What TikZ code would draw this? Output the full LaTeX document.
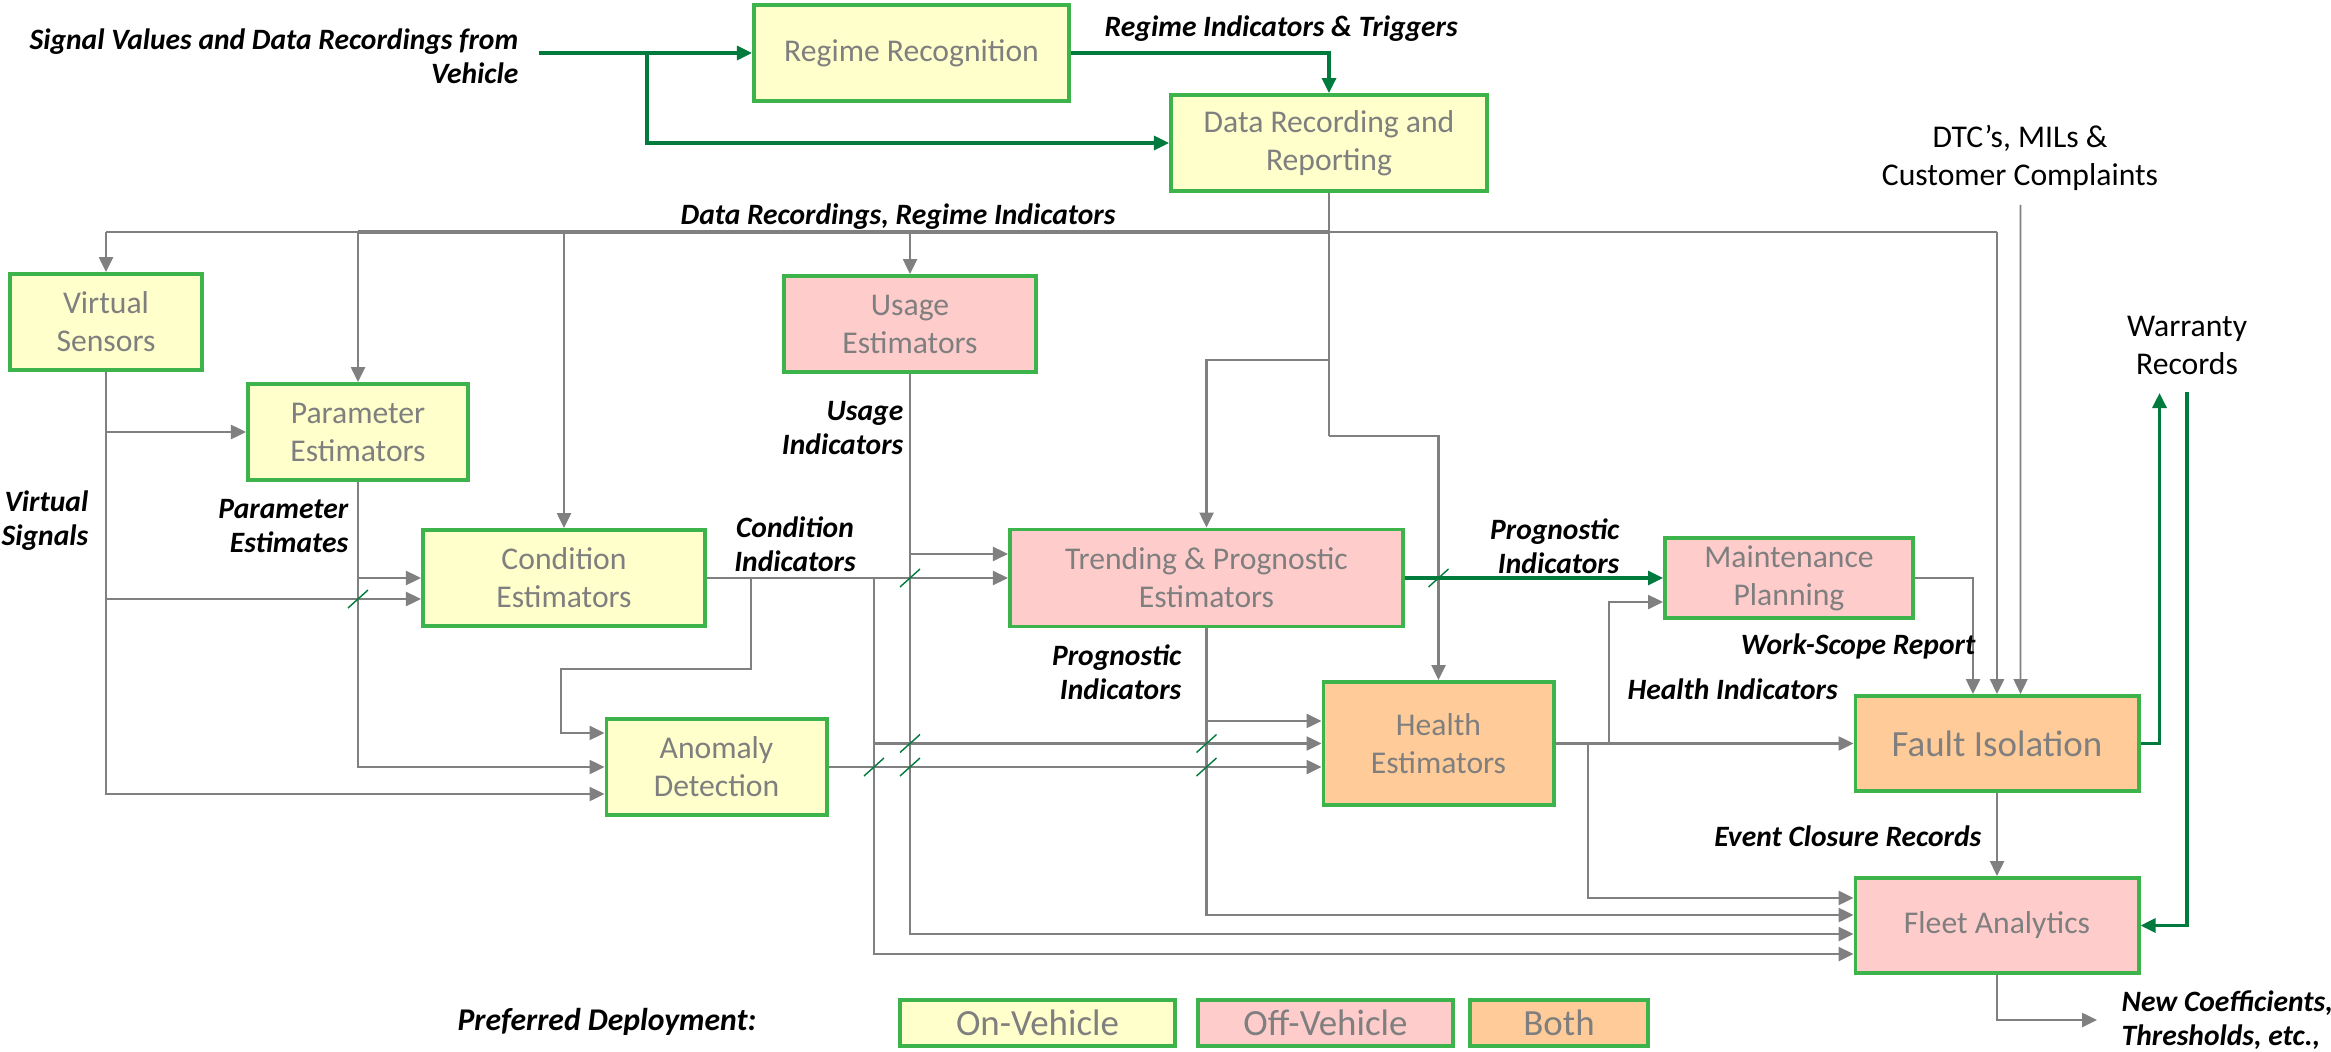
\documentclass[tikz,border=0pt]{standalone}
\usepackage{fontspec}
\setmainfont{Carlito}
\usetikzlibrary{arrows.meta}
\definecolor{FDGreen}{HTML}{3CB44B}
\definecolor{FDDark}{HTML}{007A3D}
\definecolor{FDGray}{HTML}{808080}
\definecolor{FDText}{HTML}{7F7F7F}
\definecolor{FDYellow}{HTML}{FFFFCC}
\definecolor{FDPink}{HTML}{FFCCCC}
\definecolor{FDPeach}{HTML}{FFCC99}
\tikzset{
  unit/.style={draw=FDGreen,line width=1.1pt,text=FDText,align=center,inner sep=0pt,
               font=\fontsize{9}{10.8}\selectfont},
  onveh/.style={unit,fill=FDYellow},
  offveh/.style={unit,fill=FDPink},
  bothveh/.style={unit,fill=FDPeach},
  flow/.style={-{Triangle[length=1.5mm,width=1.4mm]},FDGray,line width=0.7pt},
  flowgreen/.style={flow,FDDark,line width=0.9pt},
  wire/.style={FDGray,line width=0.7pt},
  slash/.style={FDDark,line width=0.4pt},
  lab/.style={font=\fontsize{8.4}{9.7}\selectfont\bfseries\itshape,text=black,inner sep=0pt},
  plainlab/.style={font=\fontsize{9}{10.8}\selectfont,text=black,align=center,inner sep=0pt},
}

\begin{document}
\begin{tikzpicture}[x=0.01cm,y=-0.01cm]
  \path[use as bounding box,fill=white] (0,0) rectangle (2331,1052);

  % on-vehicle blocks
  \node[onveh,minimum width=3.15cm,minimum height=0.96cm] (rr) at (911.5,53) {Regime Recognition};
  \node[onveh,minimum width=3.16cm,minimum height=0.96cm] (dr) at (1329,143) {Data Recording and\\Reporting};
  \node[onveh,minimum width=1.92cm,minimum height=0.96cm] (vs) at (106,322) {Virtual\\Sensors};
  \node[onveh,minimum width=2.20cm,minimum height=0.96cm] (pe) at (358,432) {Parameter\\Estimators};
  \node[onveh,minimum width=2.82cm,minimum height=0.96cm] (ce) at (564,578) {Condition\\Estimators};
  \node[onveh,minimum width=2.20cm,minimum height=0.96cm] (ad) at (716.5,767) {Anomaly\\Detection};
  % off-vehicle and both
  \node[offveh,minimum width=2.52cm,minimum height=0.96cm] (ue) at (910,324) {Usage\\Estimators};
  \node[offveh,minimum width=3.93cm,minimum height=0.97cm] (tp) at (1206.5,578) {Trending \& Prognostic\\Estimators};
  \node[offveh,minimum width=2.48cm,minimum height=0.80cm] (mp) at (1789,578) {Maintenance\\Planning};
  \node[bothveh,minimum width=2.30cm,minimum height=1.23cm] (he) at (1438.5,743.5) {Health\\Estimators};
  \node[bothveh,minimum width=2.83cm,minimum height=0.95cm,font=\fontsize{10.5}{12.6}\selectfont] (fi) at (1997,743.5) {Fault Isolation};
  \node[offveh,minimum width=2.83cm,minimum height=0.95cm] (fa) at (1997,925.5) {Fleet Analytics};

  % junctions
  \coordinate (sigin) at (539,53);
  \coordinate (sigj) at (647,53);
  \coordinate (busL) at (106,232);
  \coordinate (busDR) at (1329,232);
  \coordinate (busR) at (1997,232);
  \coordinate (drup) at (1329,360);
  \coordinate (drdn) at (1329,436);
  \coordinate (dtcin) at (2020.5,205);
  \coordinate (fiinL) at ([xshift=-0.24cm]fi.north);
  \coordinate (fiinR) at ([xshift=0.235cm]fi.north);
  \coordinate (vsend) at (106,794);
  \coordinate (vsce) at (106,599);
  \coordinate (cej) at (751,578);
  \coordinate (cek) at (561,669);
  \coordinate (cej2) at (874,578);
  \coordinate (hej1) at (1609,743.5);
  \coordinate (hej2) at (1588,743.5);
  \coordinate (warr) at (2159.5,393);
  \coordinate (warrin) at (2187,392);
  \coordinate (faout) at (2097,1020);
  \coordinate (adin) at ([yshift=0.34cm]ad.west);
  \coordinate (tpin) at ([yshift=0.24cm]tp.west);
  \coordinate (hein) at ([yshift=0.225cm]he.west);
  \coordinate (mpin) at ([yshift=-0.24cm]mp.west);
  \coordinate (fain1) at ([yshift=0.275cm]fa.west);
  \coordinate (fain2) at ([yshift=0.105cm]fa.west);
  \coordinate (fain3) at ([yshift=-0.085cm]fa.west);
  \coordinate (fain4) at ([yshift=-0.285cm]fa.west);

  % data bus
  \draw[wire] (dr) -- (busDR);
  \draw[wire] (busL) -- (busR);
  \draw[wire,line width=1.4pt] (pe |- busL) -- (busDR);
  \draw[flow] (busL) -- (vs);
  \draw[flow] (pe |- busL) -- (pe);
  \draw[flow] (ce |- busL) -- (ce);
  \draw[flow] (ue |- busL) -- (ue);
  \draw[flow] (busR) -- (fi);
  \draw[wire] (busDR) -- (drdn);
  \draw[flow] (drup) -| (tp);
  \draw[flow] (drdn) -| (he);
  \draw[flow,line width=0.5pt] (dtcin) -- (fiinR);
  \draw[flow] (mp) -| (fiinL);

  % estimator network
  \draw[flow] (vs) -- (vsend) -- (ad.west |- vsend);
  \draw[flow] (vs |- pe) -- (pe);
  \draw[flow] (vsce) -- (ce.west |- vsce);
  \draw[flow] (pe) -- (pe |- ad) -- (ad);
  \draw[flow] (pe |- ce) -- (ce);
  \draw[flow] (ce) -- (tp);
  \draw[flow] (cej) |- (cek) |- (adin);
  \draw[flow] (cej2) |- (fain4);
  \draw[flow] (cej2 |- he) -- (he);
  \draw[flow] (ue) |- (fain3);
  \draw[flow] (ue |- tpin) -- (tpin);
  \draw[flow] (tp) |- (fain2);
  \draw[flow] (tp |- hein) -- (hein);
  \draw[flow] (ad) -- (he.west |- ad);
  \draw[flow] (he) -- (fi);
  \draw[flow] (hej1) |- (mpin);
  \draw[flow] (hej2) |- (fain1);
  \draw[flow] (fi) -- (fa);
  \draw[flow] (fa) |- (faout);

  % green paths
  \draw[flowgreen] (sigin) -- (rr);
  \draw[flowgreen] (sigj) |- (dr);
  \draw[flowgreen] (rr) -| (dr);
  \draw[flowgreen] (tp) -- (mp);
  \draw[flowgreen] (fi) -| (warr);
  \draw[flowgreen] (warrin) |- (fa);

  % crossing marks
  \foreach \c in {(pe |- vsce),(ue |- ce),(he |- tp),(cej2 |- ad),(ue |- ad),(ue |- he),(tp |- he),(tp |- ad)}
    \draw[slash] \c ++(-10,9) -- ++(20,-18);

  % labels
  \node[lab,align=right,anchor=east] (siglab) at (519,56) {Signal Values and Data Recordings from\\Vehicle};
  \node[lab,anchor=west] (rtlab) at (1104,29) {Regime Indicators \& Triggers};
  \node[lab] (buslab) at (898,217) {Data Recordings, Regime Indicators};
  \node[lab,align=right,anchor=east] (vslab) at (89,521) {Virtual\\Signals};
  \node[lab,align=right,anchor=east] (pelab) at (349,526) {Parameter\\Estimates};
  \node[lab,align=center] (celab) at (795,544) {Condition\\Indicators};
  \node[lab,align=right,anchor=east] (uelab) at (904,428) {Usage\\Indicators};
  \node[lab,align=right,anchor=east] (tplab) at (1620,546) {Prognostic\\Indicators};
  \node[lab,align=right,anchor=east] (tplab2) at (1182,672) {Prognostic\\Indicators};
  \node[lab,anchor=east] (wslab) at (1976,646) {Work-Scope Report};
  \node[lab,anchor=west] (helab) at (1627,689) {Health Indicators};
  \node[lab,anchor=east] (eclab) at (1982,836) {Event Closure Records};
  \node[lab,align=left,anchor=west] (falab) at (2121,1020) {New Coefficients,\\Thresholds, etc.,};
  \node[plainlab] (dtc) at (2020,158) {DTC’s, MILs \&\\Customer Complaints};
  \node[plainlab] (wr) at (2187,345) {Warranty\\Records};

  % legend
  \node[lab,font=\fontsize{9}{10.8}\selectfont\bfseries\itshape,anchor=east] (leglab) at (757,1022) {Preferred Deployment:};
  \node[onveh,minimum width=2.75cm,minimum height=0.46cm,font=\fontsize{10.5}{12.6}\selectfont] (legon) at (1037.5,1023) {On-Vehicle};
  \node[offveh,minimum width=2.55cm,minimum height=0.46cm,font=\fontsize{10.5}{12.6}\selectfont] (legoff) at (1325.5,1023) {Off-Vehicle};
  \node[bothveh,minimum width=1.78cm,minimum height=0.46cm,font=\fontsize{10.5}{12.6}\selectfont] (legboth) at (1559,1023) {Both};
\end{tikzpicture}
\end{document}
